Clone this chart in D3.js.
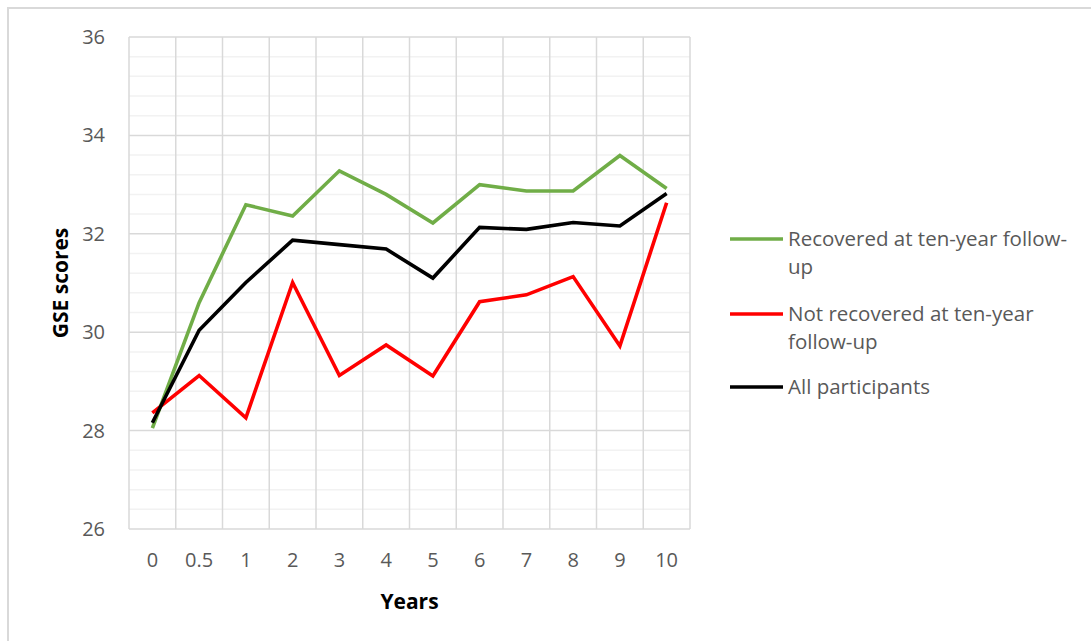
<!DOCTYPE html>
<html><head><meta charset="utf-8">
<script src="https://cdn.jsdelivr.net/npm/d3@7"></script>
<style>body{margin:0;background:#fff;}svg{display:block;}</style>
</head><body><svg id="c" width="1091" height="641"></svg>
<script>
const categories = ["0","0.5","1","2","3","4","5","6","7","8","9","10"];
const recovered = [28.05,30.6,32.59,32.36,33.28,32.8,32.22,33.0,32.87,32.87,33.59,32.92];
const notRecovered = [28.36,29.12,28.26,31.01,29.12,29.74,29.11,30.62,30.76,31.13,29.72,32.63];
const allParticipants = [28.16,30.04,31.01,31.87,31.78,31.69,31.1,32.13,32.09,32.23,32.16,32.82];
const seriesNames = ["Recovered at ten-year follow-up","Not recovered at ten-year follow-up","All participants"];
const yTicks = [26,28,30,32,34,36];

const svg = d3.select("#c");
const font = "'Open Sans', 'Liberation Sans', sans-serif";
svg.append("rect").attr("x",8).attr("y",8).attr("width",1200).attr("height",800)
  .attr("fill","#fff").attr("stroke","#d9d9d9").attr("stroke-width",2);

const L=129,R=690,T=37,B=529;
const x = d3.scaleBand().domain(categories).range([L,R]).paddingInner(0).paddingOuter(0);
const y = d3.scaleLinear().domain([26,36]).range([B,T]);

const g = svg.append("g");
const minor = d3.range(26,36.001,0.4).filter(v=>Math.abs(v/2-Math.round(v/2))>1e-6);
g.selectAll(".mn").data(minor).enter().append("line")
  .attr("x1",L).attr("x2",R).attr("y1",d=>y(d)).attr("y2",d=>y(d))
  .attr("stroke","#f2f2f2").attr("stroke-width",1.5);
const bounds = categories.map(c=>x(c)).concat([R]);
g.selectAll(".vg").data(bounds).enter().append("line")
  .attr("x1",d=>d).attr("x2",d=>d).attr("y1",T).attr("y2",B)
  .attr("stroke","#d9d9d9").attr("stroke-width",1.5);
g.selectAll(".mj").data(yTicks).enter().append("line")
  .attr("x1",L).attr("x2",R).attr("y1",d=>y(d)).attr("y2",d=>y(d))
  .attr("stroke","#d9d9d9").attr("stroke-width",1.5);

const yAxis = d3.axisLeft(y).tickValues(yTicks).tickSize(0).tickPadding(24);
const ya = svg.append("g").attr("transform",`translate(${L},0)`).call(yAxis);
ya.select(".domain").remove();
ya.selectAll("text").attr("fill","#595959").style("font-family",font).style("font-size","20px");

const xAxis = d3.axisBottom(x).tickSize(0).tickPadding(24);
const xa = svg.append("g").attr("transform",`translate(0,${B})`).call(xAxis);
xa.select(".domain").remove();
xa.selectAll("text").attr("fill","#595959").style("font-family",font).style("font-size","20px");

svg.append("text").attr("x",(L+R)/2).attr("y",609).attr("text-anchor","middle")
  .style("font-family",font).style("font-size","21px").style("font-weight","bold").text("Years");
svg.append("text").attr("transform",`translate(68,${(T+B)/2}) rotate(-90)`).attr("text-anchor","middle")
  .style("font-family",font).style("font-size","21px").style("font-weight","bold").text("GSE scores");

const colors = ["#70ad47","#ff0000","#000000"];
const data = [recovered,notRecovered,allParticipants];
const line = d3.line().x((d,i)=>x(categories[i])+x.bandwidth()/2).y(d=>y(d));
data.forEach((s,k)=>{
  svg.append("path").attr("d",line(s)).attr("fill","none").attr("stroke",colors[k])
    .attr("stroke-width",3.6).attr("stroke-linejoin","miter");
});

const legendLines = [["Recovered at ten-year follow-","up"],["Not recovered at ten-year","follow-up"],["All participants"]];
const legY = [239,314,387];
legendLines.forEach((lines,k)=>{
  svg.append("line").attr("x1",730).attr("x2",783).attr("y1",legY[k]).attr("y2",legY[k])
    .attr("stroke",colors[k]).attr("stroke-width",3.6);
  lines.forEach((t,j)=>{
    svg.append("text").attr("x",788).attr("y",legY[k]+7+j*27.5).attr("fill","#595959")
      .style("font-family",font).style("font-size","20.5px").text(t);
  });
});
</script></body></html>
